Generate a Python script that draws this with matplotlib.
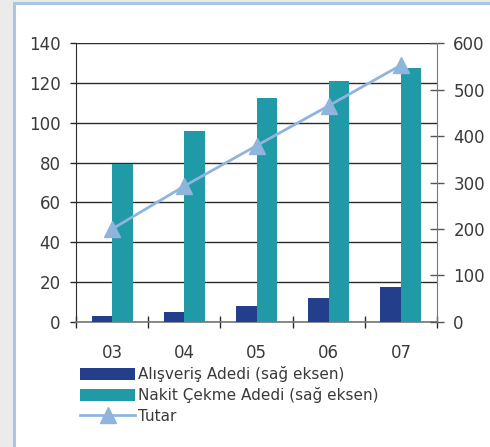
import matplotlib.pyplot as plt
import numpy as np
from matplotlib.patches import Patch, Rectangle
from matplotlib.lines import Line2D

plt.rcParams['font.family'] = ['DejaVu Sans']

years = ["03", "04", "05", "06", "07"]
alisveris_adedi = [12, 21, 34, 51, 75]        # right axis
nakit_cekme_adedi = [339, 411, 482, 519, 547]  # right axis
tutar = [46.6, 68.2, 88.5, 108.6, 129.0]       # left axis

left_ticks = [0, 20, 40, 60, 80, 100, 120, 140]
right_ticks = [0, 100, 200, 300, 400, 500, 600]

c_dark = "#233e8b"
c_teal = "#219aa8"
c_line = "#8fb5dd"
c_text = "#3a3a3a"

fig = plt.figure(figsize=(4.9, 4.47), dpi=100)
fig.patch.set_facecolor("#ebebeb")
# white panel with a light blue frame
fig.patches.append(Rectangle((13.5 / 490, -0.05), 1.1, 1.05 - 3.5 / 447, transform=fig.transFigure,
                             facecolor="white", edgecolor="#a9c6e6", linewidth=2.2, zorder=-10))

pos = [76 / 490, 1 - 321.7 / 447, (437 - 76) / 490, (321.7 - 43.3) / 447]
ax = fig.add_axes(pos)
ax2 = ax.twinx()
ax3 = ax.twinx()
ax.patch.set_visible(False)

x = np.arange(len(years))
bw = 0.285

# left axis with gridlines
ax.set_xlim(-0.5, len(years) - 0.5)
ax.set_ylim(0, 140)
ax.set_yticks(left_ticks)
for t in left_ticks:
    ax.axhline(t, color="#2a2a2a", lw=1.0, zorder=0)
ax.tick_params(axis="y", direction="out", length=4, width=1, color="#2a2a2a",
               labelsize=12, labelcolor=c_text, pad=7)

# bars on the right axis
ax2.set_ylim(0, 600)
ax2.set_yticks(right_ticks)
ax2.bar(x - bw / 2, alisveris_adedi, width=bw, color=c_dark, zorder=2)
ax2.bar(x + bw / 2, nakit_cekme_adedi, width=bw, color=c_teal, zorder=2)
ax2.tick_params(axis="y", direction="inout", length=9.5, width=1, color="#555555",
                labelsize=12, labelcolor=c_text, pad=7)

# line on the left scale
ax3.set_ylim(0, 140)
ax3.plot(x, tutar, color=c_line, lw=2, marker="^", markersize=11, zorder=3)
ax3.set_yticks([])
for s in ax3.spines.values():
    s.set_visible(False)
ax3.set_xlim(-0.5, len(years) - 0.5)

for a in (ax, ax2):
    a.spines["top"].set_visible(False)
ax2.spines["left"].set_visible(False)
ax.spines["right"].set_visible(False)
ax.spines["left"].set_color("#2a2a2a")
ax2.spines["right"].set_color("#777777")
ax2.spines["bottom"].set_visible(False)
ax.spines["bottom"].set_color("#777777")
ax.spines["bottom"].set_linewidth(1.2)

# category boundaries as major ticks, labels at centres
ax.set_xticks(np.arange(-0.5, len(years), 1.0))
ax.set_xticklabels([])
ax.set_xticks(x, minor=True)
ax.set_xticklabels(years, minor=True)
ax.tick_params(axis="x", which="major", direction="inout", length=8, width=1, color="#2a2a2a")
ax.tick_params(axis="x", which="minor", length=0, pad=16, labelsize=12, labelcolor=c_text)

handles = [Patch(facecolor=c_dark), Patch(facecolor=c_teal),
           Line2D([], [], color=c_line, lw=2, marker="^", markersize=11)]
labels = ["Alışveriş Adedi (sağ eksen)", "Nakit Çekme Adedi (sağ eksen)", "Tutar"]
leg = fig.legend(handles, labels, loc="upper left", bbox_to_anchor=(80 / 490, 1 - 366 / 447),
                 frameon=False, fontsize=11, handlelength=3.6, handleheight=0.85,
                 handletextpad=0.2, labelspacing=0.35, borderaxespad=0, borderpad=0)
for t in leg.get_texts():
    t.set_color(c_text)

fig.savefig("out.png", dpi=100)
